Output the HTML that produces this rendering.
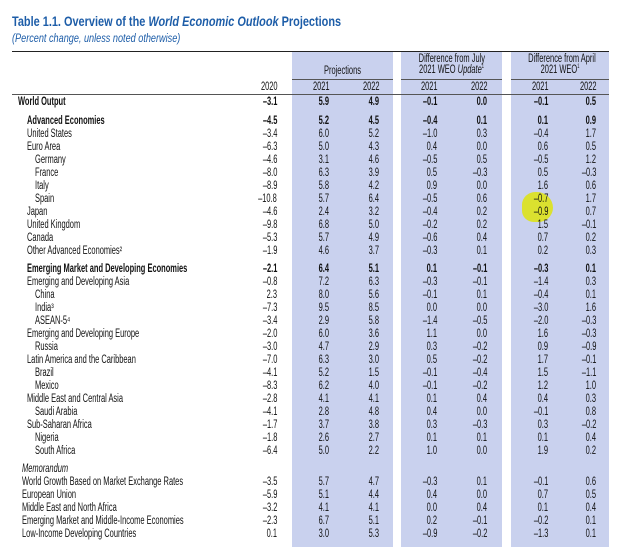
<!DOCTYPE html>
<html><head><meta charset="utf-8">
<style>
body{margin:0;background:#fff;width:631px;height:547px;overflow:hidden;position:relative;font-family:"Liberation Sans",sans-serif;color:#111}
.t{position:absolute;white-space:nowrap;font-size:11.5px;line-height:12px;transform:scaleX(0.65);transform-origin:left center}
.r{transform-origin:right center;text-align:right}
.c{transform-origin:center center;text-align:center}
.b{font-weight:bold}
.shade{position:absolute;background:#c9d1ee;top:52px;height:495px}
.rule{position:absolute;height:1px;background:#222}
</style></head><body>
<div style="position:absolute;left:12px;top:13px;font-size:14px;font-weight:bold;color:#1d5da8;white-space:nowrap;transform:scaleX(0.78);transform-origin:left">Table 1.1. Overview of the <i>World Economic Outlook</i> Projections</div>
<div style="position:absolute;left:12px;top:31px;font-size:12px;font-style:italic;color:#1d5da8;white-space:nowrap;transform:scaleX(0.76);transform-origin:left">(Percent change, unless noted otherwise)</div>
<div class="shade" style="left:292px;width:101px"></div>
<div class="shade" style="left:401px;width:101px"></div>
<div class="shade" style="left:511px;width:98px"></div>
<div class="rule" style="left:12px;width:597px;top:51px"></div>
<div class="rule" style="left:12px;width:597px;top:94px;background:#555"></div>
<div class="rule" style="left:292px;width:101px;top:79px;background:#555"></div>
<div class="rule" style="left:401px;width:101px;top:79px;background:#555"></div>
<div class="rule" style="left:511px;width:98px;top:79px;background:#555"></div>
<div style="position:absolute;left:522px;top:192px;width:31px;height:30px;background:#dde21a;border-radius:45% 55% 50% 40%;opacity:0.9"></div>
<div class="t c" style="left:292px;width:101px;top:65px">Projections</div>
<div class="t c" style="left:401px;width:101px;top:54px;line-height:11px">Difference from July<br>2021 WEO <i>Update</i><sup style="font-size:6px;line-height:0">1</sup></div>
<div class="t c" style="left:511px;width:98px;top:54px;line-height:11px">Difference from April<br>2021 WEO<sup style="font-size:6px;line-height:0">1</sup></div>
<div id="tbl"></div>
<script>
const years = ["2020","2021","2022","2021","2022","2021","2022"];
const labels = ["World Output","Advanced Economies","United States","Euro Area","Germany","France","Italy","Spain","Japan","United Kingdom","Canada","Other Advanced Economies²","Emerging Market and Developing Economies","Emerging and Developing Asia","China","India³","ASEAN-5⁴","Emerging and Developing Europe","Russia","Latin America and the Caribbean","Brazil","Mexico","Middle East and Central Asia","Saudi Arabia","Sub-Saharan Africa","Nigeria","South Africa","Memorandum","World Growth Based on Market Exchange Rates","European Union","Middle East and North Africa","Emerging Market and Middle-Income Economies","Low-Income Developing Countries"];
const indents = [0,1,1,1,2,2,2,2,1,1,1,1,1,1,2,2,2,1,2,1,2,2,1,2,1,2,2,3,3,3,3,3,3];
const boldRows = [1,1,0,0,0,0,0,0,0,0,0,0,1,0,0,0,0,0,0,0,0,0,0,0,0,0,0,0,0,0,0,0,0];
const rowY = [102,121,134,147,160,173,186,199,212,225,238,251,269,282,295,308,321,334,347,360,373,386,399,412,425,438,451,469,482,495,508,521,534];
const values = [
["–3.1","5.9","4.9","–0.1","0.0","–0.1","0.5"],
["–4.5","5.2","4.5","–0.4","0.1","0.1","0.9"],
["–3.4","6.0","5.2","–1.0","0.3","–0.4","1.7"],
["–6.3","5.0","4.3","0.4","0.0","0.6","0.5"],
["–4.6","3.1","4.6","–0.5","0.5","–0.5","1.2"],
["–8.0","6.3","3.9","0.5","–0.3","0.5","–0.3"],
["–8.9","5.8","4.2","0.9","0.0","1.6","0.6"],
["–10.8","5.7","6.4","–0.5","0.6","–0.7","1.7"],
["–4.6","2.4","3.2","–0.4","0.2","–0.9","0.7"],
["–9.8","6.8","5.0","–0.2","0.2","1.5","–0.1"],
["–5.3","5.7","4.9","–0.6","0.4","0.7","0.2"],
["–1.9","4.6","3.7","–0.3","0.1","0.2","0.3"],
["–2.1","6.4","5.1","0.1","–0.1","–0.3","0.1"],
["–0.8","7.2","6.3","–0.3","–0.1","–1.4","0.3"],
["2.3","8.0","5.6","–0.1","0.1","–0.4","0.1"],
["–7.3","9.5","8.5","0.0","0.0","–3.0","1.6"],
["–3.4","2.9","5.8","–1.4","–0.5","–2.0","–0.3"],
["–2.0","6.0","3.6","1.1","0.0","1.6","–0.3"],
["–3.0","4.7","2.9","0.3","–0.2","0.9","–0.9"],
["–7.0","6.3","3.0","0.5","–0.2","1.7","–0.1"],
["–4.1","5.2","1.5","–0.1","–0.4","1.5","–1.1"],
["–8.3","6.2","4.0","–0.1","–0.2","1.2","1.0"],
["–2.8","4.1","4.1","0.1","0.4","0.4","0.3"],
["–4.1","2.8","4.8","0.4","0.0","–0.1","0.8"],
["–1.7","3.7","3.8","0.3","–0.3","0.3","–0.2"],
["–1.8","2.6","2.7","0.1","0.1","0.1","0.4"],
["–6.4","5.0","2.2","1.0","0.0","1.9","0.2"],
["","","","","","",""],
["–3.5","5.7","4.7","–0.3","0.1","–0.1","0.6"],
["–5.9","5.1","4.4","0.4","0.0","0.7","0.5"],
["–3.2","4.1","4.1","0.0","0.4","0.1","0.4"],
["–2.3","6.7","5.1","0.2","–0.1","–0.2","0.1"],
["0.1","3.0","5.3","–0.9","–0.2","–1.3","0.1"]
];
const colRight=[277,329,379,437,487,548,596];
const indentX=[18,27,35,22];
const tbl=document.getElementById('tbl');
function mk(txt,cls,left,top,right){
  const d=document.createElement('div');
  d.className='t '+cls;
  d.textContent=txt;
  d.style.top=(top-6)+'px';
  if(right!==undefined){d.style.right=(631-right)+'px';}else d.style.left=left+'px';
  tbl.appendChild(d);return d;
}
years.forEach((y,i)=>{
  const d=mk(y,'r',0,87,colRight[i]+1);
  
  
});
labels.forEach((lab,i)=>{
  const b=boldRows[i]?' b':'';
  const d=mk(lab,b,indentX[i===0?0:indents[i]],rowY[i]);
  if(i===27)d.style.fontStyle='italic';
  
  
  values[i].forEach((v,j)=>{
    if(!v)return;
    const c=mk(v,'r'+b,0,rowY[i],colRight[j]);
    
    
  });
});
</script>
</body></html>
